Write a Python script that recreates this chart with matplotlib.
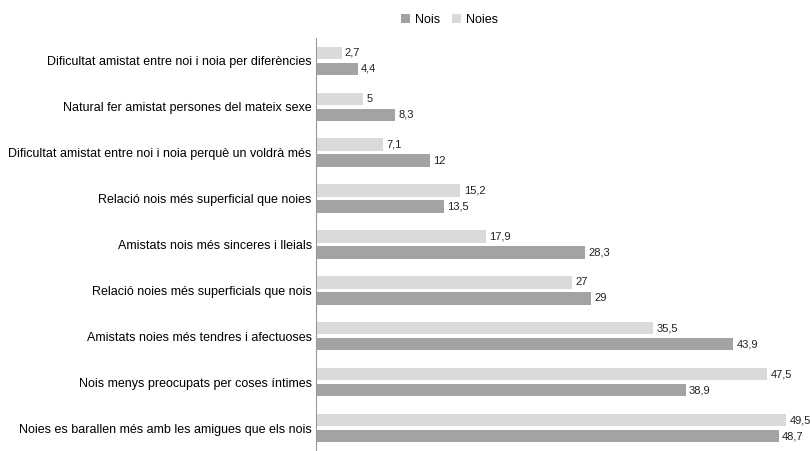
import numpy as np
import matplotlib
matplotlib.use("Agg")
import matplotlib.pyplot as plt

plt.rcParams['font.family'] = ['Liberation Sans', 'DejaVu Sans']

categories = [
    "Dificultat amistat entre noi i noia per diferències",
    "Natural fer amistat persones del mateix sexe",
    "Dificultat amistat entre noi i noia perquè un voldrà més",
    "Relació nois més superficial que noies",
    "Amistats nois més sinceres i lleials",
    "Relació noies més superficials que nois",
    "Amistats noies més tendres i afectuoses",
    "Nois menys preocupats per coses íntimes",
    "Noies es barallen més amb les amigues que els nois",
]
nois = [4.4, 8.3, 12, 13.5, 28.3, 29, 43.9, 38.9, 48.7]
noies = [2.7, 5, 7.1, 15.2, 17.9, 27, 35.5, 47.5, 49.5]

c_nois = "#a3a3a3"
c_noies = "#dadada"

fig = plt.figure(figsize=(8.1, 4.51), dpi=100)
ax = fig.add_axes([0.39, 0.0, 0.5865, 0.916])

y = np.arange(len(categories))
h = 0.27
gap = 0.08
b1 = ax.barh(y + (h + gap) / 2, nois, height=h, color=c_nois, label="Nois")
b2 = ax.barh(y - (h + gap) / 2, noies, height=h, color=c_noies, label="Noies")

def fmt(v):
    s = f"{v:g}"
    return s.replace(".", ",")

# value labels next to each bar
for bars, vals in ((b1, nois), (b2, noies)):
    for rect, v in zip(bars, vals):
        ax.text(rect.get_width() + 0.35, rect.get_y() + rect.get_height() / 2,
                fmt(v), va="center", ha="left", fontsize=8, color="#222222")

ax.set_xlim(0, 50)
ax.set_ylim(len(categories) - 0.5, -0.5)
ax.set_yticks(y)
ax.set_yticklabels(categories, fontsize=9)
ax.tick_params(axis="y", length=0, pad=3)
ax.set_xticks([])
for s in ("top", "right", "bottom"):
    ax.spines[s].set_visible(False)
ax.spines["left"].set_color("#999999")
ax.spines["left"].set_linewidth(0.8)

fig.legend(handles=[b1, b2], labels=["Nois", "Noies"], loc="upper center",
           bbox_to_anchor=(0.555, 0.995), ncol=2, frameon=False, fontsize=9,
           handlelength=0.7, handleheight=0.7, handletextpad=0.4, columnspacing=1.0)

fig.savefig("out.png", dpi=100)
